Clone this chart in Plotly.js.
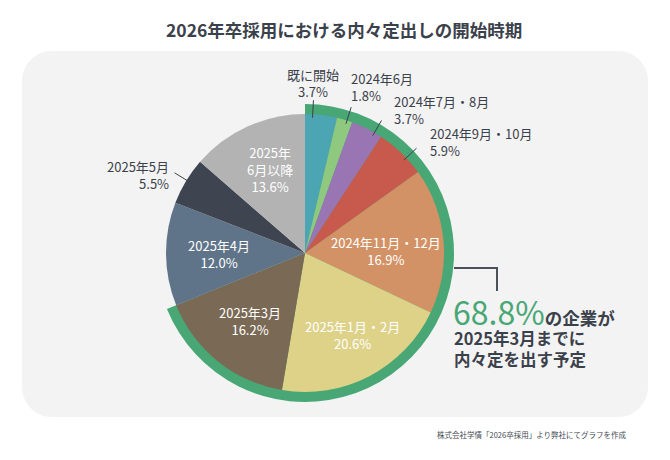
<!DOCTYPE html>
<html>
<head>
<meta charset="utf-8">
<script src="https://cdn.plot.ly/plotly-3.0.1.min.js"></script>
<style>html,body{margin:0;padding:0;background:#fff;}#chart{width:670px;height:460px;}</style>
</head>
<body>
<div id="chart"></div>
<script>
// ---------- DATA ----------
const categories = ['既に開始','2024年6月','2024年7月・8月','2024年9月・10月','2024年11月・12月','2025年1月・2月','2025年3月','2025年4月','2025年5月','2025年6月以降'];
const displayNames = ['既に開始','2024年6月','2024年7月・8月','2024年9月・10月','2024年11月・12月','2025年1月・2月','2025年3月','2025年4月','2025年5月','2025年\n6月以降'];
const shares = [3.7, 1.8, 3.7, 5.9, 16.9, 20.6, 16.2, 12.0, 5.5, 13.6];
const highlightThrough = '2025年3月';
const titleText = '2026年卒採用における内々定出しの開始時期';
const highlightLead = 'の企業が';
const highlightLines = ['2025年3月までに', '内々定を出す予定'];
const sourceText = '株式会社学情「2026卒採用」より弊社にてグラフを作成';

// ---------- STYLE / LAYOUT ----------
const W = 670, H = 460;
const FONT = '"Noto Sans CJK JP", "Noto Sans", sans-serif';
const sliceColors = ['#4ba5b2','#8ec97f','#9a75b3','#c8594d','#d39266','#ded289','#7a6955','#607489','#3e4551','#b3b3b3'];
const ringColor = '#48a775';
const textDark = '#3b414b';
const center = {x: 305, y: 253};
const R = 139, RING = 149;
const LABEL_SIZE = 13;
// label placement relative to each slice's mid angle
const placement = {
  '既に開始':        {pos:'out', nudge:-3.5, align:'center', dx:-1,   dy:-13},
  '2024年6月':       {pos:'out', nudge:1,    align:'left',   dx:-2,   dy:-16},
  '2024年7月・8月':  {pos:'out', nudge:3.5,  align:'left',   dx:10,   dy:-7},
  '2024年9月・10月': {pos:'out', nudge:3,    align:'left',   dx:10,   dy:-3},
  '2024年11月・12月':{pos:'in',  nudge:4,    rf:0.58},
  '2025年1月・2月':  {pos:'in',  nudge:-2.5, rf:0.68},
  '2025年3月':       {pos:'in',  nudge:0,    rf:0.63},
  '2025年4月':       {pos:'in',  nudge:0,    rf:0.62},
  '2025年5月':       {pos:'out', nudge:0.5,  align:'right',  dx:-1,   dy:4},
  '2025年6月以降':   {pos:'in',  nudge:1.5,  rf:0.65}
};

const px = x => x / W;
const py = y => 1 - y / H;

// ---------- DERIVED ----------
const total = shares.reduce((a,b)=>a+b,0);
const hiIdx = categories.indexOf(highlightThrough);
const hiSum = shares.slice(0, hiIdx+1).reduce((a,b)=>a+b,0);
const restSum = total - hiSum;

function polar(angDeg, rho){
  const a = angDeg*Math.PI/180;
  return {x: center.x + rho*Math.sin(a), y: center.y - rho*Math.cos(a)};
}

const annotations = [];
const shapes = [];

// background rounded panel
(function(){
  const x0=22,y0=51,x1=648,y1=417,r=30,k=0.5523*r;
  const P=(x,y)=>px(x)+','+py(y);
  const d = 'M'+P(x0+r,y0)+' L'+P(x1-r,y0)+' C'+P(x1-r+k,y0)+' '+P(x1,y0+r-k)+' '+P(x1,y0+r)+
    ' L'+P(x1,y1-r)+' C'+P(x1,y1-r+k)+' '+P(x1-r+k,y1)+' '+P(x1-r,y1)+
    ' L'+P(x0+r,y1)+' C'+P(x0+r-k,y1)+' '+P(x0,y1-r+k)+' '+P(x0,y1-r)+
    ' L'+P(x0,y0+r)+' C'+P(x0,y0+r-k)+' '+P(x0+r-k,y0)+' '+P(x0+r,y0)+' Z';
  shapes.push({type:'path', xref:'paper', yref:'paper', path:d, fillcolor:'#f3f3f3', line:{width:0}, layer:'below'});
})();

// slice labels
let cum = 0;
categories.forEach((cat, i) => {
  const v = shares[i];
  const mid = (cum + v/2) / total * 360;
  cum += v;
  const pl = placement[cat];
  const ang = mid + pl.nudge;
  const lines = displayNames[i].split('\n').concat([v.toFixed(1) + '%']);
  let cx, cy, anchor, color;
  if (pl.pos === 'in') {
    const p = polar(ang, R*pl.rf);
    cx = p.x; cy = p.y; anchor = 'center'; color = '#ffffff';
  } else {
    const t = polar(ang, R*0.975), e = polar(ang, R+14), ref = polar(ang, R+18);
    shapes.push({type:'line', xref:'paper', yref:'paper', x0:px(t.x), y0:py(t.y), x1:px(e.x), y1:py(e.y),
      line:{color:textDark, width:1}, layer:'above'});
    cx = ref.x + pl.dx; cy = ref.y + pl.dy; anchor = pl.align; color = textDark;
  }
  annotations.push({xref:'paper', yref:'paper', x:px(cx), y:py(cy), text:lines.join('<br>'), showarrow:false,
    xanchor:anchor, yanchor:'middle', align:anchor, borderpad:0,
    font:{family:FONT, size:LABEL_SIZE, color:color}});
});

// title
annotations.push({xref:'paper', yref:'paper', x:px(344), y:py(30), text:titleText, showarrow:false,
  xanchor:'center', yanchor:'middle', font:{family:FONT, size:17.5, color:textDark, weight:700}});

// highlight text
annotations.push({xref:'paper', yref:'paper', x:px(452), y:py(311),
  text:'<span style="font-size:32px;color:' + ringColor + '">' + hiSum.toFixed(1) + '%</span><b>' + highlightLead + '</b>',
  showarrow:false, xanchor:'left', yanchor:'middle', borderpad:0,
  font:{family:FONT, size:17.5, color:textDark}});
annotations.push({xref:'paper', yref:'paper', x:px(453), y:py(348.5), text:highlightLines.join('<br>'), showarrow:false,
  xanchor:'left', yanchor:'middle', align:'left', borderpad:0,
  font:{family:FONT, size:16.5, color:textDark, weight:700}});

// bracket connector
shapes.push({type:'path', xref:'paper', yref:'paper',
  path:'M'+px(center.x+RING)+','+py(268)+' L'+px(497)+','+py(268)+' L'+px(497)+','+py(291),
  line:{color:'#4b515a', width:2}, layer:'above'});

// source
annotations.push({xref:'paper', yref:'paper', x:px(628), y:py(434), text:sourceText, showarrow:false,
  xanchor:'right', yanchor:'middle', font:{family:FONT, size:7.5, color:'#444a52'}});

// ---------- TRACES ----------
const ringTrace = {
  type:'pie', values:[hiSum, restSum], labels:['hi','rest'], sort:false, direction:'clockwise', rotation:0,
  marker:{colors:[ringColor,'rgba(0,0,0,0)'], line:{width:0}}, textinfo:'none', hoverinfo:'skip', showlegend:false,
  domain:{x:[px(center.x-RING), px(center.x+RING)], y:[py(center.y+RING), py(center.y-RING)]}
};
const pieTrace = {
  type:'pie', labels:categories, values:shares, sort:false, direction:'clockwise', rotation:0,
  marker:{colors:sliceColors, line:{width:0}}, textinfo:'none', hoverinfo:'skip', showlegend:false,
  domain:{x:[px(center.x-R), px(center.x+R)], y:[py(center.y+R), py(center.y-R)]}
};

const layout = {
  width:W, height:H, autosize:false,
  margin:{l:0,r:0,t:0,b:0},
  paper_bgcolor:'#ffffff', plot_bgcolor:'#ffffff',
  showlegend:false,
  shapes:shapes, annotations:annotations
};

Plotly.newPlot('chart', [ringTrace, pieTrace], layout, {staticPlot:true, displayModeBar:false});
</script>
</body>
</html>
